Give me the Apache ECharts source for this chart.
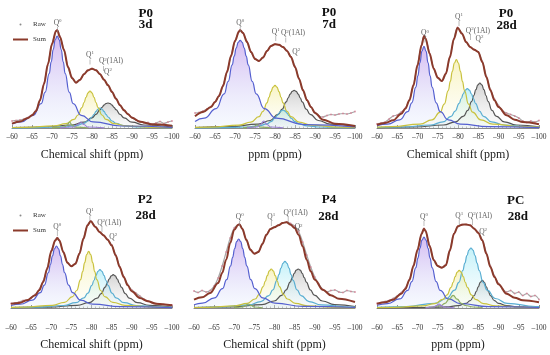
<!DOCTYPE html>
<html><head><meta charset="utf-8">
<script src="https://cdn.jsdelivr.net/npm/echarts@6/dist/echarts.min.js"></script>
<style>html,body{margin:0;padding:0;background:#fff}#c{width:550px;height:355px}</style>
</head><body><div id="c"></div>
<script>
// ---------- x axis ticks ----------
const xMin = -100, xMax = -60, xStep = 5;

// ---------- panel texts ----------
const axisNames = ['Chemical shift (ppm)','ppm (ppm)','Chemical shift (ppm)','Chemical shift (ppm)','Chemical shift (ppm)','ppm (ppm)'];
const tags = [['P0','3d'],['P0','7d'],['P0','28d'],['P2','28d'],['P4','28d'],['PC','28d']];
const legendNames = ['Raw','Sum'];

// ---------- P0 3d ----------
const p1Sum = [[-60,4.3],[-62,6.5],[-64,10],[-65,12.7],[-66,17],[-67,27.7],[-68,44],[-69,64],[-70,84],[-71,97],[-71.3,97.7],[-72,91],[-73,78],[-74,61],[-75,50],[-76,45.3],[-77,48.3],[-78,53.7],[-79,57.7],[-80,59.3],[-81,57.7],[-82,53.7],[-83,48.3],[-84,42.7],[-85,36],[-86,29.3],[-87,22.7],[-88,17.7],[-89,13.7],[-90,10.3],[-92,6.3],[-95,3.7],[-100,2.3]];
const p1Raw = [[-60,7],[-61,7.5],[-62,8],[-63,9],[-64,10.5],[-65,13],[-66,17.5],[-67,28],[-68,44.5],[-69,64],[-70,84],[-71,97],[-71.3,98],[-72,91.5],[-73,78],[-74,61],[-75,50.5],[-76,45.5],[-77,48],[-78,54],[-79,57.5],[-80,59.5],[-81,58],[-82,54],[-83,48.5],[-84,43],[-85,36.5],[-86,29.5],[-87,23],[-88,18],[-89,14],[-90,10.5],[-91,8],[-92,6.5],[-93,5],[-94,5.5],[-95,3.5],[-96,5],[-97,6.5],[-98,4.5],[-99,6],[-100,7]];
const p1Q0 = [[-60,4.0],[-62.3,6.1],[-65.3,12.7],[-67.3,24.4],[-68.3,35.9],[-69.3,54.3],[-69.8,66.1],[-70.3,78.4],[-70.8,88.1],[-71.3,92],[-71.8,88.1],[-72.3,78.4],[-72.8,66.1],[-73.3,54.3],[-74.3,35.9],[-75.3,24.4],[-77.3,12.7],[-80.3,6.1],[-87.3,2.0],[-100,0.6]];
const p1Q1 = [[-60,0.5],[-63.5,0.7],[-70.5,2.1],[-73.5,4.4],[-75.5,8.6],[-76.5,13.0],[-77.5,20.3],[-78,25.3],[-78.5,30.7],[-79,35.2],[-79.5,37],[-80,35.2],[-80.5,30.7],[-81,25.3],[-81.5,20.3],[-82.5,13.0],[-83.5,8.6],[-85.5,4.4],[-88.5,2.1],[-95.5,0.7],[-100,0.4]];
const p1Q2Al = [[-60,0.2],[-66,0.4],[-73,1.1],[-76,2.4],[-78,4.6],[-79,7.0],[-80,11.0],[-80.5,13.7],[-81,16.6],[-81.5,19.0],[-82,20],[-82.5,19.0],[-83,16.6],[-83.5,13.7],[-84,11.0],[-85,7.0],[-86,4.6],[-88,2.4],[-91,1.1],[-98,0.4],[-100,0.3]];
const p1Q2 = [[-60,0.5],[-68,1.0],[-75,3.0],[-78,5.8],[-80,10.1],[-81,13.7],[-82,18.3],[-82.5,20.7],[-83,22.9],[-83.5,24.5],[-84,25],[-84.5,24.5],[-85,22.9],[-85.5,20.7],[-86,18.3],[-87,13.7],[-88,10.1],[-90,5.8],[-93,3.0],[-100,1.0]];
const p1MinA = [[-70,0.2],[-73,0.8],[-73.8,3],[-74.4,6],[-75,3],[-75.8,0.8],[-79,0.2]];
const p1MinB = [[-72,0.2],[-75.5,1],[-76.4,3.5],[-77.2,6],[-78,3.5],[-78.9,1],[-83,0.2]];
const p1Labels = [[-71.4,105.3,'Q0'],[-79.5,73,'Q1'],[-84.75,66.5,'Q2(1Al)'],[-84,56,'Q2']];
const p1Ticks = [[-71.4,98.5],[-79.5,66],[-82.9,59.5]];

// ---------- P0 7d ----------
const p2Sum = [[-60,11.7],[-62,16],[-64,21],[-65,26],[-66,32],[-67,42],[-68,56],[-69,72],[-70,87],[-71,96.5],[-71.3,97.7],[-72,95],[-73,86],[-74,76],[-75,69],[-76,67],[-77,70.5],[-78,77],[-79,82],[-80,83.7],[-81,83.2],[-82,81],[-83,77],[-84,71],[-85,61],[-86,49.3],[-87,37.7],[-88,27.7],[-89,21],[-90,15],[-92,8.3],[-95,4.3],[-100,2]];
const p2Raw = [[-60,15],[-61,15.5],[-62,17],[-63,19],[-64,21.5],[-65,26],[-66,32.5],[-67,42.5],[-68,56.5],[-69,72],[-70,87],[-71,96.5],[-71.3,98],[-72,95],[-73,86.5],[-74,76],[-75,69.5],[-76,67],[-77,70.5],[-78,77],[-79,82],[-80,84],[-81,83],[-82,81],[-83,77.5],[-84,71],[-85,61.5],[-86,49.5],[-87,38],[-88,28],[-89,21],[-90,15.5],[-91,12],[-92,11],[-93,12.5],[-94,13.5],[-95,13],[-96,14],[-97,14.5],[-98,14],[-99,15],[-100,16.5]];
const p2Q0 = [[-60,6.5],[-62.3,9.8],[-65.3,19.4],[-67.3,34.2],[-68.3,46.7],[-69.3,63.1],[-69.8,71.9],[-70.3,79.9],[-70.8,85.6],[-71.3,87.7],[-71.8,85.6],[-72.3,79.9],[-72.8,71.9],[-73.3,63.1],[-74.3,46.7],[-75.3,34.2],[-77.3,19.4],[-80.3,9.8],[-87.3,3.4],[-100,1.1]];
const p2Q1 = [[-60,0.6],[-64,0.9],[-71,2.8],[-74,5.9],[-76,11.3],[-77,16.7],[-78,25.2],[-78.5,30.7],[-79,36.4],[-79.5,40.9],[-80,42.7],[-80.5,40.9],[-81,36.4],[-81.5,30.7],[-82,25.2],[-83,16.7],[-84,11.3],[-86,5.9],[-89,2.8],[-96,0.9],[-100,0.6]];
const p2Q2Al = [[-60,0.2],[-66,0.3],[-73,1.0],[-76,2.1],[-78,4.2],[-79,6.3],[-80,9.9],[-80.5,12.3],[-81,14.9],[-81.5,17.1],[-82,18],[-82.5,17.1],[-83,14.9],[-83.5,12.3],[-84,9.9],[-85,6.3],[-86,4.2],[-88,2.1],[-91,1.0],[-98,0.3],[-100,0.3]];
const p2Q2 = [[-60,0.5],[-68.8,1.3],[-75.8,3.8],[-78.8,7.5],[-80.8,13.6],[-81.8,18.9],[-82.8,26.1],[-83.3,30.2],[-83.8,33.9],[-84.3,36.7],[-84.8,37.7],[-85.3,36.7],[-85.8,33.9],[-86.3,30.2],[-86.8,26.1],[-87.8,18.9],[-88.8,13.6],[-90.8,7.5],[-93.8,3.8],[-100,1.4]];
const p2MinA = [[-72,0.2],[-74.5,0.8],[-75.5,3],[-76.5,0.8],[-79,0.2]];
const p2MinB = [[-73,0.2],[-75.5,1],[-76.4,3.5],[-77.2,7],[-78,3.5],[-78.9,1],[-82,0.2]];
const p2Labels = [[-71.3,105.3,'Q0'],[-80.2,96.3,'Q1'],[-84.5,94.7,'Q2(1Al)'],[-85.3,76.3,'Q2']];
const p2Ticks = [[-71.3,98.5],[-80.2,89.5],[-82.7,88]];

// ---------- P0 28d ----------
const p3Sum = [[-60,3.3],[-62,5],[-64,7.7],[-66,14.3],[-67,19.3],[-68,27.7],[-69,42.7],[-70,62.7],[-71,82.7],[-71.6,91.7],[-72,89.3],[-73,74.3],[-74,59.3],[-75,50.3],[-76,47],[-77,54.3],[-78,71],[-79,89.3],[-79.9,100.3],[-81,94.3],[-82,86],[-83,81],[-84,78.3],[-85,76],[-86,66],[-87,51],[-88,37.7],[-89,27.7],[-90,21],[-92,12.7],[-94,8.3],[-96,6],[-100,3.7]];
const p3Raw = [[-60,4],[-61,5],[-62,6],[-63,9],[-64,12],[-65,13],[-66,16],[-67,20],[-68,28],[-69,43],[-70,63],[-71,83],[-71.6,92],[-72,89.5],[-73,74.5],[-74,59.5],[-75,50.5],[-76,47],[-77,54.5],[-78,71],[-79,89],[-79.9,100.5],[-81,94.5],[-82,86],[-83,81],[-84,78.5],[-85,76],[-86,66.5],[-87,51.5],[-88,38.5],[-89,29],[-90,22.5],[-91,17],[-92,15],[-93,13.5],[-94,12],[-95,10],[-96,7],[-97,5.5],[-98,7],[-99,6],[-100,7.5]];
const p3Q0 = [[-60,2.4],[-62.6,3.8],[-65.6,8.2],[-67.6,16.3],[-68.6,25.2],[-69.6,40.9],[-70.1,52.3],[-70.6,65.4],[-71.1,76.9],[-71.6,81.7],[-72.1,76.9],[-72.6,65.4],[-73.1,52.3],[-73.6,40.9],[-74.6,25.2],[-75.6,16.3],[-77.6,8.2],[-80.6,3.8],[-87.6,1.3],[-100,0.4]];
const p3Q1 = [[-60,0.8],[-63.6,1.3],[-70.6,3.8],[-73.6,8.1],[-75.6,15.8],[-76.6,23.9],[-77.6,37.4],[-78.1,46.6],[-78.6,56.6],[-79.1,65.0],[-79.6,68.3],[-80.1,65.0],[-80.6,56.6],[-81.1,46.6],[-81.6,37.4],[-82.6,23.9],[-83.6,15.8],[-85.6,8.1],[-88.6,3.8],[-95.6,1.3],[-100,0.8]];
const p3Q2Al = [[-60,0.5],[-66.3,1.0],[-73.3,3.0],[-76.3,6.2],[-78.3,11.7],[-79.3,16.9],[-80.3,24.7],[-80.8,29.5],[-81.3,34.2],[-81.8,37.9],[-82.3,39.3],[-82.8,37.9],[-83.3,34.2],[-83.8,29.5],[-84.3,24.7],[-85.3,16.9],[-86.3,11.7],[-88.3,6.2],[-91.3,3.0],[-98.3,1.0],[-100,0.8]];
const p3Q2 = [[-60,0.4],[-69.4,1.0],[-76.4,3.0],[-79.4,6.2],[-81.4,11.9],[-82.4,17.6],[-83.4,26.6],[-83.9,32.4],[-84.4,38.3],[-84.9,43.1],[-85.4,45],[-85.9,43.1],[-86.4,38.3],[-86.9,32.4],[-87.4,26.6],[-88.4,17.6],[-89.4,11.9],[-91.4,6.2],[-94.4,3.0],[-100,1.2]];
const p3MinA = [];
const p3MinB = [];
const p3Labels = [[-71.85,94.7,'Q0'],[-80.25,111.3,'Q1'],[-84.9,97.3,'Q2(1Al)'],[-85.3,89,'Q2']];
const p3Ticks = [[-71.85,88],[-80.25,104.5],[-83.1,90.5]];

// ---------- P2 28d ----------
const p4Sum = [[-60,4.3],[-62,5],[-64,7.7],[-66,12.7],[-67,17.7],[-68,26],[-69,39.3],[-70,56.7],[-71,67.7],[-71.5,70],[-72,67.7],[-73,56],[-74,45.3],[-75,41.7],[-76,44.3],[-77,54.3],[-78,69.3],[-79,82.7],[-79.8,86.7],[-81,81],[-82,76],[-83,72.7],[-84,68.3],[-85,62.7],[-86,52.7],[-87,41],[-88,31],[-89,22.7],[-90,16.7],[-92,10],[-94,6.7],[-96,4.3],[-100,2.7]];
const p4Raw = [[-60,4.5],[-61,5],[-62,6],[-63,7.5],[-64,8],[-65,10],[-66,13.5],[-67,18.5],[-68,27],[-69,40],[-70,57],[-71,67.5],[-71.5,70.3],[-72,67.5],[-73,56],[-74,45.5],[-75,42],[-76,44.5],[-77,54.5],[-78,69.5],[-79,82.5],[-79.8,87],[-81,81],[-82,76],[-83,72.5],[-84,68.5],[-85,63],[-86,53],[-87,41.5],[-88,31.5],[-89,23.5],[-90,18],[-91,15],[-92,12],[-93,9],[-94,7],[-95,5.5],[-96,4.5],[-97,4],[-98,3.5],[-99,3],[-100,3]];
const p4Q0 = [[-60,2.5],[-62.3,3.8],[-65.3,7.9],[-67.3,15.4],[-68.3,22.9],[-69.3,35.3],[-69.8,43.5],[-70.3,52.1],[-70.8,59.2],[-71.3,62],[-71.8,59.2],[-72.3,52.1],[-72.8,43.5],[-73.3,35.3],[-74.3,22.9],[-75.3,15.4],[-77.3,7.9],[-80.3,3.8],[-87.3,1.3],[-100,0.4]];
const p4Q1 = [[-60,0.6],[-63.3,0.9],[-70.3,2.7],[-73.3,5.7],[-75.3,11.3],[-76.3,17.5],[-77.3,28.4],[-77.8,36.3],[-78.3,45.4],[-78.8,53.4],[-79.3,56.7],[-79.8,53.4],[-80.3,45.4],[-80.8,36.3],[-81.3,28.4],[-82.3,17.5],[-83.3,11.3],[-85.3,5.7],[-88.3,2.7],[-95.3,0.9],[-100,0.5]];
const p4Q2Al = [[-60,0.4],[-66.1,0.8],[-73.1,2.5],[-76.1,5.3],[-78.1,10.1],[-79.1,14.9],[-80.1,22.6],[-80.6,27.5],[-81.1,32.6],[-81.6,36.7],[-82.1,38.3],[-82.6,36.7],[-83.1,32.6],[-83.6,27.5],[-84.1,22.6],[-85.1,14.9],[-86.1,10.1],[-88.1,5.3],[-91.1,2.5],[-98.1,0.8],[-100,0.7]];
const p4Q2 = [[-60,0.3],[-69.4,0.9],[-76.4,2.6],[-79.4,5.3],[-81.4,9.9],[-82.4,14.3],[-83.4,20.9],[-83.9,25.0],[-84.4,29.0],[-84.9,32.1],[-85.4,33.3],[-85.9,32.1],[-86.4,29.0],[-86.9,25.0],[-87.4,20.9],[-88.4,14.3],[-89.4,9.9],[-91.4,5.3],[-94.4,2.6],[-100,1.0]];
const p4MinA = [];
const p4MinB = [];
const p4Labels = [[-71.5,81.3,'Q0'],[-79.6,96.3,'Q1'],[-84.4,85.3,'Q2(1Al)'],[-85.4,71.3,'Q2']];
const p4Ticks = [[-71.5,74.5],[-79.6,89.5],[-82.6,78.5]];

// ---------- P4 28d ----------
const p5Sum = [[-60,8.3],[-62,10.7],[-64,15],[-66,25],[-67,35],[-68,48.3],[-69,65],[-70,78.3],[-71,83.3],[-71.3,83.5],[-72,79.3],[-73,68.3],[-74,58.3],[-75,54.3],[-76,56],[-77,64],[-78,73.3],[-79,79],[-80,80.7],[-81,82.7],[-82,85],[-83,85.7],[-84,83.3],[-85,80],[-86,73.3],[-87,61.7],[-88,48.3],[-89,36.7],[-90,28.3],[-92,18.3],[-94,12.7],[-96,9.3],[-100,6]];
const p5Raw = [[-60,17],[-61,15.5],[-62,17.5],[-63,16],[-64,17.5],[-65,22],[-66,30],[-67,42],[-68,56],[-69,70],[-70,80],[-71,83.3],[-71.3,83.8],[-72,79],[-73,68],[-74,58.5],[-75,54.5],[-76,56.5],[-77,64],[-78,73],[-79,79],[-80,81],[-81,83],[-82,85],[-83,86],[-84,84.5],[-85,82],[-86,76.5],[-87,66],[-88,53],[-89,41],[-90,31],[-91,24],[-92,18.5],[-93,16],[-94,17.5],[-95,18],[-96,16],[-97,15.5],[-98,17.5],[-99,16.5],[-100,16]];
const p5Q0 = [[-60,3.3],[-62.1,4.9],[-65.1,10.2],[-67.1,19.4],[-68.1,28.3],[-69.1,42.1],[-69.6,50.7],[-70.1,59.5],[-70.6,66.4],[-71.1,69],[-71.6,66.4],[-72.1,59.5],[-72.6,50.7],[-73.1,42.1],[-74.1,28.3],[-75.1,19.4],[-77.1,10.2],[-80.1,4.9],[-87.1,1.6],[-100,0.5]];
const p5Q1 = [[-60,0.5],[-63.2,0.7],[-70.2,2.2],[-73.2,4.6],[-75.2,9.0],[-76.2,13.7],[-77.2,21.4],[-77.7,26.6],[-78.2,32.3],[-78.7,37.1],[-79.2,39],[-79.7,37.1],[-80.2,32.3],[-80.7,26.6],[-81.2,21.4],[-82.2,13.7],[-83.2,9.0],[-85.2,4.6],[-88.2,2.2],[-95.2,0.7],[-100,0.4]];
const p5Q2Al = [[-60,0.5],[-66.6,1.0],[-73.6,3.1],[-76.6,6.4],[-78.6,12.4],[-79.6,18.2],[-80.6,27.6],[-81.1,33.6],[-81.6,39.8],[-82.1,44.7],[-82.6,46.7],[-83.1,44.7],[-83.6,39.8],[-84.1,33.6],[-84.6,27.6],[-85.6,18.2],[-86.6,12.4],[-88.6,6.4],[-91.6,3.1],[-98.6,1.0],[-100,0.9]];
const p5Q2 = [[-60,0.5],[-69.9,1.2],[-76.9,3.4],[-79.9,7.0],[-81.9,12.8],[-82.9,18.2],[-83.9,25.8],[-84.4,30.3],[-84.9,34.6],[-85.4,37.8],[-85.9,39],[-86.4,37.8],[-86.9,34.6],[-87.4,30.3],[-87.9,25.8],[-88.9,18.2],[-89.9,12.8],[-91.9,7.0],[-94.9,3.4],[-100,1.5]];
const p5MinA = [[-70,0.2],[-72,1],[-72.8,2.5],[-73.5,4],[-74.2,2.5],[-75,1],[-77,0.2]];
const p5MinB = [];
const p5Labels = [[-71.35,91.3,'Q0'],[-79.2,91.3,'Q1'],[-85.25,95.3,'Q2(1Al)'],[-86,80.7,'Q2']];
const p5Ticks = [[-71.35,84.5],[-79.2,84.5],[-83.4,88.5]];

// ---------- PC 28d ----------
const p6Sum = [[-60,4.3],[-62,5.7],[-64,8.3],[-66,14.3],[-67,19],[-68,28],[-69,42],[-70,58],[-71,74],[-71.6,79.3],[-72,77],[-73,62],[-74,48],[-75,42],[-76,40.3],[-77,42.7],[-78,57.7],[-79,74.3],[-80,81.7],[-81,83.3],[-82,83.5],[-83,82.7],[-84,79.3],[-85,75],[-86,67.7],[-87,54.3],[-88,41],[-89,31],[-90,23.7],[-92,14.3],[-94,10.3],[-96,7.7],[-100,5.7]];
const p6Raw = [[-60,4.5],[-61,5],[-62,6.5],[-63,7.5],[-64,9.5],[-65,12],[-66,15.5],[-67,20],[-68,28.5],[-69,42.5],[-70,58],[-71,74],[-71.6,79.5],[-72,77],[-73,62],[-74,48],[-75,42],[-76,40.5],[-77,43],[-78,57.5],[-79,74],[-80,81.5],[-81,83.5],[-82,83.5],[-83,82.5],[-84,79.5],[-85,75.5],[-86,68],[-87,55],[-88,42],[-89,32],[-90,24.5],[-91,19],[-92,16],[-93,17.5],[-94,14.5],[-95,16],[-96,12.5],[-97,14.5],[-98,11.5],[-99,12.5],[-100,8.5]];
const p6Q0 = [[-60,2.7],[-62.6,4.4],[-65.6,9.1],[-67.6,17.6],[-68.6,26.3],[-69.6,40.4],[-70.1,49.8],[-70.6,59.7],[-71.1,67.8],[-71.6,71],[-72.1,67.8],[-72.6,59.7],[-73.1,49.8],[-73.6,40.4],[-74.6,26.3],[-75.6,17.6],[-77.6,9.1],[-80.6,4.4],[-87.6,1.4],[-100,0.5]];
const p6Q1 = [[-60,0.4],[-64.3,0.7],[-71.3,2.1],[-74.3,4.4],[-76.3,8.7],[-77.3,13.2],[-78.3,20.7],[-78.8,25.7],[-79.3,31.3],[-79.8,35.9],[-80.3,37.7],[-80.8,35.9],[-81.3,31.3],[-81.8,25.7],[-82.3,20.7],[-83.3,13.2],[-84.3,8.7],[-86.3,4.4],[-89.3,2.1],[-96.3,0.7],[-100,0.5]];
const p6Q2Al = [[-60,0.7],[-67.2,1.5],[-74.2,4.6],[-77.2,9.5],[-79.2,17.8],[-80.2,25.7],[-81.2,37.7],[-81.7,45.0],[-82.2,52.3],[-82.7,57.8],[-83.2,60],[-83.7,57.8],[-84.2,52.3],[-84.7,45.0],[-85.2,37.7],[-86.2,25.7],[-87.2,17.8],[-89.2,9.5],[-92.2,4.6],[-99.2,1.5],[-100,1.4]];
const p6Q2 = [[-60,0.1],[-70,0.3],[-77,1.1],[-80,2.3],[-82,4.7],[-83,7.3],[-84,12.4],[-84.5,16.3],[-85,21.2],[-85.5,25.7],[-86,27.7],[-86.5,25.7],[-87,21.2],[-87.5,16.3],[-88,12.4],[-89,7.3],[-90,4.7],[-92,2.3],[-95,1.1],[-100,0.5]];
const p6MinA = [[-72,0.5],[-73.8,1.0],[-75.8,2.5],[-76.8,4.6],[-77.8,8.8],[-78.8,12.7],[-79.8,8.8],[-80.8,4.6],[-81.8,2.5],[-83.8,1.0],[-86,0.5]];
const p6MinB = [[-72,0.2],[-74,1],[-74.7,2.5],[-75.3,4],[-75.9,2.5],[-76.6,1],[-79,0.2]];
const p6Labels = [[-71.6,91.3,'Q0'],[-80.3,92.3,'Q1'],[-85.4,92.3,'Q2(1Al)'],[-86.2,76.3,'Q2']];
const p6Ticks = [[-71.6,84.5],[-80.3,85.5],[-83.6,85.5]];

// ---------- assemble ----------
const panels = [
  {sum:p1Sum, raw:p1Raw, q0:p1Q0, q1:p1Q1, q2al:p1Q2Al, q2:p1Q2, minA:p1MinA, minB:p1MinB, labels:p1Labels, ticks:p1Ticks},
  {sum:p2Sum, raw:p2Raw, q0:p2Q0, q1:p2Q1, q2al:p2Q2Al, q2:p2Q2, minA:p2MinA, minB:p2MinB, labels:p2Labels, ticks:p2Ticks},
  {sum:p3Sum, raw:p3Raw, q0:p3Q0, q1:p3Q1, q2al:p3Q2Al, q2:p3Q2, minA:p3MinA, minB:p3MinB, labels:p3Labels, ticks:p3Ticks},
  {sum:p4Sum, raw:p4Raw, q0:p4Q0, q1:p4Q1, q2al:p4Q2Al, q2:p4Q2, minA:p4MinA, minB:p4MinB, labels:p4Labels, ticks:p4Ticks},
  {sum:p5Sum, raw:p5Raw, q0:p5Q0, q1:p5Q1, q2al:p5Q2Al, q2:p5Q2, minA:p5MinA, minB:p5MinB, labels:p5Labels, ticks:p5Ticks},
  {sum:p6Sum, raw:p6Raw, q0:p6Q0, q1:p6Q1, q2al:p6Q2Al, q2:p6Q2, minA:p6MinA, minB:p6MinB, labels:p6Labels, ticks:p6Ticks}
];

// ---------- layout & style ----------
const layout = [
  {left:12,  top:8,   width:160, height:122, ymin:-2,  ymax:120, gap:19},
  {left:195, top:8,   width:160, height:122, ymin:-2,  ymax:120, gap:19},
  {left:377, top:8,   width:162, height:122, ymin:-2,  ymax:120, gap:19},
  {left:11,  top:190, width:161, height:131, ymin:-13, ymax:118, gap:18},
  {left:194, top:190, width:161, height:131, ymin:-13, ymax:118, gap:18},
  {left:377, top:190, width:162, height:131, ymin:-13, ymax:118, gap:18}
];
const tagPos = [
  [[145.7,7],[145.5,18.5]], [[329,6],[329,18.5]], [[506,7.5],[506.7,19]],
  [[145,193.5],[145.5,209.5]], [[329,193.5],[328.3,210.5]], [[515.7,194],[517.8,210.5]]
];
const FONT = 'Liberation Serif';
const ST = {
  q0:   {line:'#5560d0', top:'rgba(160,100,225,0.62)', bot:'rgba(190,212,250,0.18)'},
  q1:   {line:'#c9c23e', top:'rgba(238,226,105,0.58)', bot:'rgba(250,248,205,0.15)'},
  q2al: {line:'#5aaed2', top:'rgba(110,222,240,0.58)', bot:'rgba(205,243,250,0.15)'},
  q2:   {line:'#555555', top:'rgba(130,130,130,0.5)',  bot:'rgba(220,220,220,0.15)'},
  minA: {line:'#8fae62', top:'rgba(170,210,130,0.45)', bot:'rgba(230,245,220,0.12)'},
  minB: {line:'#9a7fd2', top:'rgba(190,160,235,0.45)', bot:'rgba(235,225,250,0.12)'}
};
const SUM_COLOR = '#8b3a2b';

function comp(i, data, st) {
  return {type:'line', xAxisIndex:i, yAxisIndex:i, data, smooth:0.5, smoothMonotone:'x',
    symbol:'none', silent:true, z:2,
    lineStyle:{color:st.line, width:1.2},
    areaStyle:{color:new echarts.graphic.LinearGradient(0,0,0,1,[{offset:0,color:st.top},{offset:1,color:st.bot}])}};
}

const grid=[], xAxis=[], yAxis=[], series=[], title=[];
panels.forEach((p, i) => {
  const L = layout[i];
  grid.push({left:L.left, top:L.top, width:L.width, height:L.height, containLabel:false});
  xAxis.push({gridIndex:i, type:'value', min:xMin, max:xMax, interval:xStep, inverse:true,
    axisLine:{lineStyle:{color:'#8a8a8a', width:1}},
    axisTick:{inside:true, length:3, lineStyle:{color:'#8a8a8a'}},
    minorTick:{show:true, splitNumber:5, length:1.5, lineStyle:{color:'#aaaaaa'}},
    splitLine:{show:false},
    axisLabel:{fontFamily:FONT, fontSize:7.5, color:'#333', margin:3, formatter:v => '\u2013' + Math.abs(v)},
    name:axisNames[i], nameLocation:'middle', nameGap:L.gap,
    nameTextStyle:{fontFamily:FONT, fontSize:12, color:'#222'}});
  yAxis.push({gridIndex:i, type:'value', min:L.ymin, max:L.ymax, show:false});
  ['q2','q2al','q1','q0','minA','minB'].forEach(k => { if (p[k].length) series.push(comp(i, p[k], ST[k])); });
  series.push({type:'line', name:'Raw', xAxisIndex:i, yAxisIndex:i, data:p.raw, smooth:0.3, z:3, silent:true,
    symbol:'circle', symbolSize:1.8, showSymbol:true,
    itemStyle:{color:'rgba(214,130,150,0.85)'}, lineStyle:{color:'rgba(150,150,150,0.85)', width:1.2}});
  series.push({type:'line', name:'Sum', xAxisIndex:i, yAxisIndex:i, data:p.sum, smooth:0.35, smoothMonotone:'x', z:4, silent:true,
    symbol:'none', itemStyle:{color:SUM_COLOR}, lineStyle:{color:SUM_COLOR, width:2}});
  series.push({type:'scatter', xAxisIndex:i, yAxisIndex:i, z:5, silent:true, symbol:'rect', symbolSize:[0.7,5],
    itemStyle:{color:'#8a8a8a'}, data:p.ticks});
  series.push({type:'scatter', xAxisIndex:i, yAxisIndex:i, z:6, silent:true, symbolSize:1,
    itemStyle:{color:'rgba(0,0,0,0)'},
    data:p.labels.map(a => ({value:[a[0], a[1]], name:a[2].replace(/^Q(\d)/, 'Q{s|$1}')})),
    label:{show:true, position:'inside', formatter:q => q.name, fontFamily:FONT, fontSize:7.5, lineHeight:9, color:'#333',
      rich:{s:{fontFamily:FONT, fontSize:5, lineHeight:5, verticalAlign:'top', color:'#333'}}}});
  tags[i].forEach((t, j) => {
    title.push({text:t, left:tagPos[i][j][0], top:tagPos[i][j][1], textAlign:'center', padding:0,
      textStyle:{fontFamily:FONT, fontSize:13, fontWeight:'bold', color:'#111'}});
  });
});

const legendTpl = top => ({orient:'vertical', left:13, top, itemWidth:15, itemHeight:2, itemGap:8, padding:0,
  selectedMode:false,
  data:[{name:legendNames[0], icon:'circle', itemStyle:{color:'#8a8a8a'}},
        {name:legendNames[1], icon:'rect', itemStyle:{color:SUM_COLOR}}],
  textStyle:{fontFamily:FONT, fontSize:7, color:'#333'}});

const chart = echarts.init(document.getElementById('c'), null, {renderer:'canvas'});
chart.setOption({backgroundColor:'#fff', animation:false, title, grid, xAxis, yAxis, series,
  legend:[legendTpl(21), legendTpl(212)]});
</script></body></html>
